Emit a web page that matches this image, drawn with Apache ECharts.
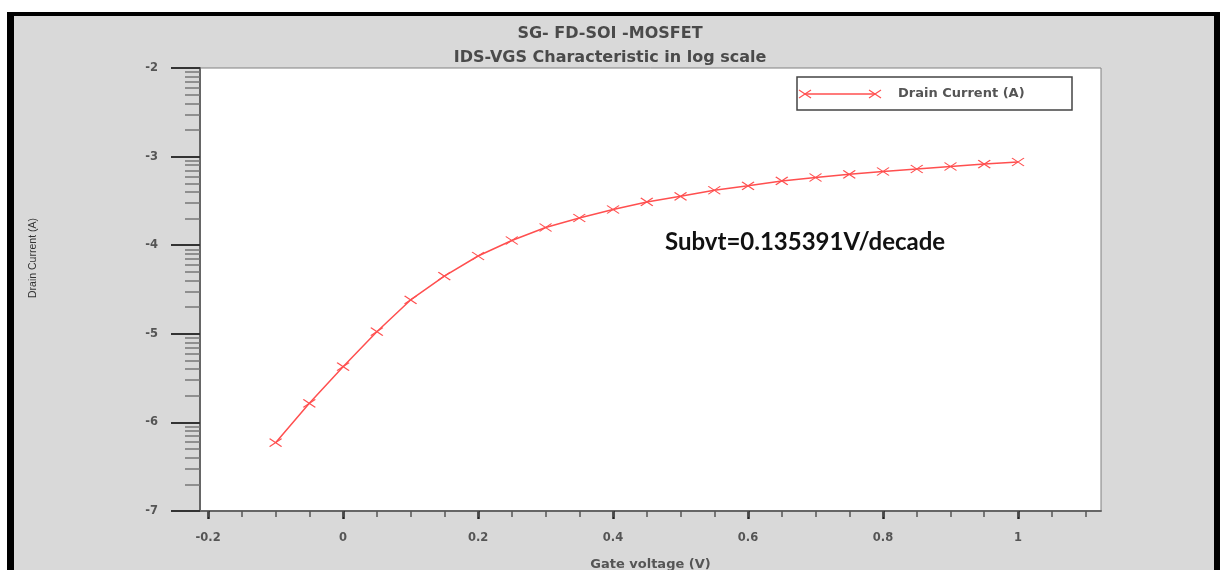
<!DOCTYPE html>
<html>
<head>
<meta charset="utf-8">
<title>SG- FD-SOI -MOSFET</title>
<script src="https://cdn.jsdelivr.net/npm/echarts@6/dist/echarts.min.js"></script>
<style>
  html, body { margin: 0; padding: 0; background: #fff; }
  #chart { width: 1220px; height: 570px; }
</style>
</head>
<body>
<div id="chart"></div>
<script>
// Gate voltage sweep (V)
const vgs = [-0.1, -0.05, 0, 0.05, 0.1, 0.15, 0.2, 0.25, 0.3, 0.35, 0.4, 0.45,
             0.5, 0.55, 0.6, 0.65, 0.7, 0.75, 0.8, 0.85, 0.9, 0.95, 1.0];
// log10 of drain current (A)
const logIds = [-6.229, -5.785, -5.371, -4.976, -4.618, -4.348, -4.122, -3.947, -3.800,
                -3.693, -3.597, -3.512, -3.448, -3.380, -3.330, -3.275, -3.236, -3.200,
                -3.168, -3.140, -3.112, -3.084, -3.061];

// Axis tick positions
const xMajorTicks = [-0.2, 0, 0.2, 0.4, 0.6, 0.8, 1];
const xMinorTicks = [-0.2, -0.15, -0.1, -0.05, 0, 0.05, 0.1, 0.15, 0.2, 0.25, 0.3, 0.35,
                     0.4, 0.45, 0.5, 0.55, 0.6, 0.65, 0.7, 0.75, 0.8, 0.85, 0.9, 0.95,
                     1, 1.05, 1.1];
const yDecades = [-7, -6, -5, -4, -3];
const yMinorMultipliers = [2, 3, 4, 5, 6, 7, 8, 9];

const titleText = 'SG- FD-SOI -MOSFET';
const subtitleText = 'IDS-VGS Characteristic in log scale';
const seriesName = 'Drain Current (A)';
const xName = 'Gate voltage (V)';
const yName = 'Drain Current (A)';
const noteText = 'Subvt=0.135391V/decade';

// log-spaced minor ticks inside each decade
const yMinorTicks = [];
yDecades.forEach(d => yMinorMultipliers.forEach(k => yMinorTicks.push(d + Math.log10(k))));

const points = vgs.map((v, i) => [v, logIds[i]]);

const red = '#ff4f4f';
const wide = "'DejaVu Sans', Verdana, sans-serif";

const chart = echarts.init(document.getElementById('chart'), null, { renderer: 'canvas' });

const option = {
  backgroundColor: '#d9d9d9',
  animation: false,
  title: [
    { text: titleText, left: 'center', top: 21,
      textStyle: { fontFamily: wide, fontSize: 16, fontWeight: 'bold', color: '#4a4a4a' } },
    { text: subtitleText, left: 'center', top: 45,
      textStyle: { fontFamily: wide, fontSize: 16, fontWeight: 'bold', color: '#4a4a4a' } }
  ],
  grid: {
    left: 200, top: 68, right: 119, bottom: 59,
    outerBoundsMode: 'none', containLabel: false,
    show: true, backgroundColor: '#ffffff', borderColor: '#808080', borderWidth: 1
  },
  xAxis: [
    {
      type: 'value', min: -0.212, max: 1.123, position: 'bottom',
      name: xName, nameLocation: 'middle', nameGap: 47,
      nameTextStyle: { fontFamily: wide, fontSize: 13, fontWeight: 'bold', color: '#555' },
      axisLine: { show: true, onZero: false, lineStyle: { color: '#666', width: 2 } },
      axisTick: { show: true, inside: false, length: 8, customValues: xMajorTicks,
                  lineStyle: { color: '#222', width: 2.5 } },
      axisLabel: { show: true, customValues: xMajorTicks, margin: 21,
                   fontFamily: wide, fontSize: 11.5, fontWeight: 'bold', color: '#555',
                   formatter: v => String(Math.round(v * 10) / 10) },
      splitLine: { show: false }
    },
    {
      type: 'value', min: -0.212, max: 1.123, position: 'bottom',
      axisLine: { show: false, onZero: false },
      axisTick: { show: true, inside: false, length: 6, customValues: xMinorTicks,
                  lineStyle: { color: '#555', width: 1.5 } },
      axisLabel: { show: false },
      splitLine: { show: false }
    }
  ],
  yAxis: [
    {
      type: 'value', min: -7, max: -2, interval: 1, position: 'left',
      axisLine: { show: true, onZero: false, lineStyle: { color: '#666', width: 2 } },
      axisTick: { show: true, inside: false, length: 29, lineStyle: { color: '#333', width: 2 } },
      axisLabel: { show: true, margin: 42, fontFamily: wide, fontSize: 11.5, fontWeight: 'bold', color: '#555' },
      splitLine: { show: false }
    },
    {
      type: 'value', min: -7, max: -2, position: 'left',
      axisLine: { show: false, onZero: false },
      axisTick: { show: true, inside: false, length: 15, customValues: yMinorTicks,
                  lineStyle: { color: '#777', width: 1.5 } },
      axisLabel: { show: false },
      splitLine: { show: false }
    }
  ],
  series: [{
    name: seriesName,
    type: 'line',
    xAxisIndex: 0, yAxisIndex: 0,
    data: points,
    symbol: 'path://M0,0L12,8M0,8L12,0',
    symbolSize: [12, 8],
    showAllSymbol: true,
    lineStyle: { color: red, width: 1.5 },
    itemStyle: { color: red, borderColor: red, borderWidth: 1.2 },
    z: 5
  }],
  graphic: [
    // outer frame
    { type: 'rect', shape: { x: 0, y: 0, width: 1220, height: 12 }, style: { fill: '#fff' }, silent: true },
    { type: 'rect', shape: { x: 0, y: 0, width: 7, height: 570 }, style: { fill: '#fff' }, silent: true },
    { type: 'rect', shape: { x: 7, y: 12, width: 1213, height: 4 }, style: { fill: '#000' }, silent: true },
    { type: 'rect', shape: { x: 7, y: 12, width: 7, height: 558 }, style: { fill: '#000' }, silent: true },
    { type: 'rect', shape: { x: 1214, y: 12, width: 6, height: 558 }, style: { fill: '#000' }, silent: true },
    // y axis title
    {
      type: 'text', x: 33, y: 258, rotation: Math.PI / 2,
      style: { text: yName, fontFamily: "'Liberation Sans Narrow', 'Arial Narrow', 'Liberation Sans', sans-serif",
               fontSize: 10.5, fill: '#333', align: 'center', verticalAlign: 'middle' },
      silent: true
    },
    // legend box
    {
      type: 'group', x: 797, y: 77, z: 10,
      children: [
        { type: 'rect', shape: { x: 0, y: 0, width: 275, height: 33 },
          style: { fill: '#fff', stroke: '#444', lineWidth: 1.5 } },
        { type: 'line', shape: { x1: 8, y1: 17, x2: 78, y2: 17 }, style: { stroke: red, lineWidth: 1.5 } },
        { type: 'polyline', shape: { points: [[2, 13], [14, 21]] }, style: { stroke: red, lineWidth: 1.2 } },
        { type: 'polyline', shape: { points: [[2, 21], [14, 13]] }, style: { stroke: red, lineWidth: 1.2 } },
        { type: 'polyline', shape: { points: [[72, 13], [84, 21]] }, style: { stroke: red, lineWidth: 1.2 } },
        { type: 'polyline', shape: { points: [[72, 21], [84, 13]] }, style: { stroke: red, lineWidth: 1.2 } },
        { type: 'text', x: 101, y: 17,
          style: { text: seriesName, fontFamily: wide, fontSize: 13, fontWeight: 'bold', fill: '#555',
                   align: 'left', verticalAlign: 'middle' } }
      ]
    },
    // subthreshold swing annotation
    {
      type: 'text', x: 665, y: 242, z: 10,
      style: { text: noteText, fontFamily: "Lato, 'Open Sans', sans-serif", fontWeight: 'bold',
               fontSize: 24, fill: '#111', align: 'left', verticalAlign: 'middle' }
    }
  ]
};

chart.setOption(option);
</script>
</body>
</html>
